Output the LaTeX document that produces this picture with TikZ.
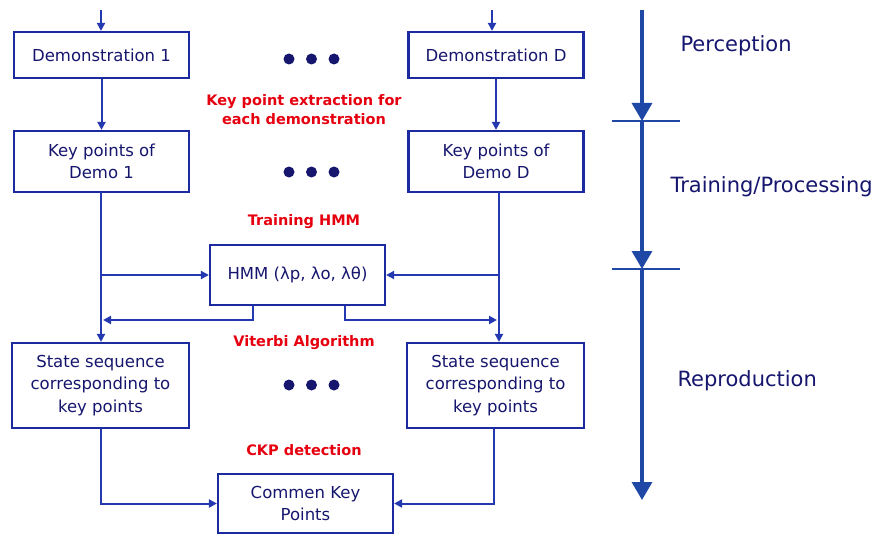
\documentclass[tikz,border=0pt]{standalone}
\usepackage{fontspec}
\setmainfont{DejaVu Sans}
\usetikzlibrary{arrows.meta}
\definecolor{inkblue}{HTML}{16166E}
\definecolor{boxblue}{HTML}{1B2A9E}
\definecolor{wireblue}{HTML}{2438B0}
\definecolor{axisblue}{HTML}{1F48A6}
\definecolor{notered}{HTML}{E6000F}
\begin{document}
\begin{tikzpicture}[x=1pt,y=-1pt,
  box/.style={draw=boxblue, line width=2.2pt, minimum width=175pt, inner sep=0pt,
    align=center, text=inkblue, font=\fontsize{16.5}{22.5}\selectfont},
  conn/.style={draw=wireblue, line width=2pt, -{Triangle[length=8pt,width=8pt]}},
  note/.style={text=notered, align=center, font=\bfseries\fontsize{14.5}{19}\selectfont},
  stage/.style={anchor=west, text=inkblue, font=\fontsize{21}{25}\selectfont},
  axis/.style={draw=axisblue, line width=3.3pt},
  axisarrow/.style={axis, -{Triangle[length=18pt,width=20pt]}},
  tickline/.style={draw=axisblue, line width=2pt},
  dot/.style={fill=inkblue, draw=none}
]
\useasboundingbox[fill=white] (0,0) rectangle (879,535);

% demonstrations
\node[box, minimum height=46pt] (d1) at (101.5,55) {Demonstration 1};
\node[box, minimum height=46pt] (dD) at (496,55) {Demonstration D};
% key points
\node[box, minimum height=61pt] (k1) at (101.5,161.5) {Key points of\\Demo 1};
\node[box, minimum height=61pt] (kD) at (496,161.5) {Key points of\\Demo D};
% HMM
\node[box, minimum height=60pt] (hmm) at (297.5,275) {HMM (λp, λo, λθ)};
% state sequences
\node[box, minimum width=177pt, minimum height=85pt] (s1) at (100.5,385.5)
  {State sequence\\corresponding to\\key points};
\node[box, minimum width=177pt, minimum height=85pt] (sD) at (495.5,385.5)
  {State sequence\\corresponding to\\key points};
% common key points
\node[box, minimum height=59pt] (ckp) at (305.5,503.5) {Commen Key\\Points};

% step annotations
\node[note] (n1) at (304,109.5) {Key point extraction for\\each demonstration};
\node[note] (n2) at (304,222) {Training HMM};
\node[note] (n3) at (304,343) {Viterbi Algorithm};
\node[note] (n4) at (304,450) {CKP detection};

% ellipsis dots
\foreach \y in {59,172,385} {
  \foreach \x in {289,311.5,334} {
    \fill[dot] (\x,\y) circle (5.5pt);
  }
}

% inputs
\coordinate (in1) at (101,10);
\coordinate (inD) at (492,10);
\draw[conn] (in1) -- (in1 |- d1.north);
\draw[conn] (inD) -- (inD |- dD.north);
\draw[conn] (d1) -- (k1);
\draw[conn] (dD) -- (kD);

% key points to state boxes, with branches into the HMM
\coordinate (vL) at (101,192);
\coordinate (vR) at (499,192);
\draw[conn] (vL) -- (vL |- s1.north);
\draw[conn] (vR) -- (vR |- sD.north);
\draw[conn] (vL |- hmm.west) -- (hmm.west);
\draw[conn] (vR |- hmm.east) -- (hmm.east);

% HMM outputs back to both branches
\coordinate (oL) at (253,320);
\coordinate (oR) at (345,320);
\draw[conn] (oL |- hmm.south) -- (oL) -- ([xshift=2pt]vL |- oL);
\draw[conn] (oR |- hmm.south) -- (oR) -- ([xshift=-2pt]vR |- oR);

% state sequences into common key points
\draw[conn] (s1.south) |- (ckp.west);
\draw[conn] ([xshift=-1.5pt]sD.south) |- (ckp.east);

% stage axis
\coordinate (a0) at (642,10);
\coordinate (a1) at (642,121);
\coordinate (a2) at (642,269);
\coordinate (a3) at (642,500);
\draw[axisarrow] (a0) -- (a1);
\draw[axisarrow] (a1) -- (a2);
\draw[axisarrow] (a2) -- (a3);
\draw[tickline] (612,121) -- (680,121);
\draw[tickline] (612,269) -- (680,269);

\node[stage] (p1) at (677,46) {Perception};
\node[stage] (p2) at (667,187) {Training/Processing};
\node[stage] (p3) at (674,381) {Reproduction};
\end{tikzpicture}
\end{document}
